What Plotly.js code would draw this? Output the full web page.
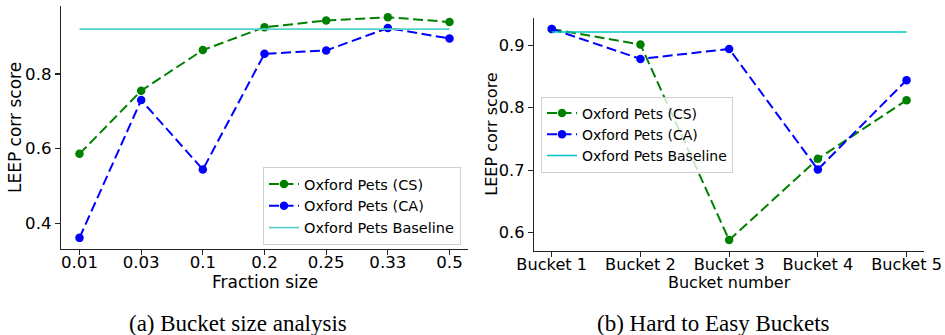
<!DOCTYPE html>
<html>
<head>
<meta charset="utf-8">
<script src="https://cdn.plot.ly/plotly-3.0.1.min.js"></script>
<style>html,body{margin:0;padding:0;background:#fff;}#chart{width:945px;height:335px;}</style>
</head>
<body>
<div id="chart"></div>
<script>
// ---- Data ----
const fractionSizes = ["0.01", "0.03", "0.1", "0.2", "0.25", "0.33", "0.5"];
const fracCS = [0.586, 0.755, 0.864, 0.925, 0.943, 0.952, 0.939];
const fracCA = [0.361, 0.730, 0.544, 0.854, 0.863, 0.923, 0.895];
const fracBaseline = [0.92, 0.92, 0.92, 0.92, 0.92, 0.92, 0.92];

const buckets = ["Bucket 1", "Bucket 2", "Bucket 3", "Bucket 4", "Bucket 5"];
const bucketCS = [0.926, 0.901, 0.588, 0.718, 0.812];
const bucketCA = [0.926, 0.878, 0.894, 0.701, 0.844];
const bucketBaseline = [0.921, 0.921, 0.921, 0.921, 0.921];

const seriesNames = ["Oxford Pets (CS)", "Oxford Pets (CA)", "Oxford Pets Baseline"];
const captions = ["(a) Bucket size analysis", "(b) Hard to Easy Buckets"];
const xTitles = ["Fraction size", "Bucket number"];
const yTitle = "LEEP corr score";

const W = 945, H = 335;
const px = v => v / W;
const py = v => 1 - v / H;
const FONT = "DejaVu Sans, sans-serif";
const DASH = "10px,4.5px";

const traces = [
  {x: fractionSizes, y: fracCS, name: seriesNames[0], type: "scatter", mode: "lines+markers",
   line: {color: "#008000", width: 2, dash: DASH}, marker: {color: "#008000", size: 8.5},
   xaxis: "x", yaxis: "y", legend: "legend"},
  {x: fractionSizes, y: fracCA, name: seriesNames[1], type: "scatter", mode: "lines+markers",
   line: {color: "#0000ff", width: 2, dash: DASH}, marker: {color: "#0000ff", size: 8.5},
   xaxis: "x", yaxis: "y", legend: "legend"},
  {x: fractionSizes, y: fracBaseline, name: seriesNames[2], type: "scatter", mode: "lines",
   line: {color: "#55d0cc", width: 1.6},
   xaxis: "x", yaxis: "y", legend: "legend"},
  {x: buckets, y: bucketCS, name: seriesNames[0], type: "scatter", mode: "lines+markers",
   line: {color: "#008000", width: 2, dash: DASH}, marker: {color: "#008000", size: 8.5},
   xaxis: "x2", yaxis: "y2", legend: "legend2"},
  {x: buckets, y: bucketCA, name: seriesNames[1], type: "scatter", mode: "lines+markers",
   line: {color: "#0000ff", width: 2, dash: DASH}, marker: {color: "#0000ff", size: 8.5},
   xaxis: "x2", yaxis: "y2", legend: "legend2"},
  {x: buckets, y: bucketBaseline, name: seriesNames[2], type: "scatter", mode: "lines",
   line: {color: "#00c4c4", width: 1.4},
   xaxis: "x2", yaxis: "y2", legend: "legend2"}
];

const axisCommon = {
  showgrid: false, zeroline: false, showline: true, linecolor: "#222", linewidth: 1.2,
  ticks: "outside", ticklen: 5, tickwidth: 1.1, tickcolor: "#222", fixedrange: true
};

const layout = {
  width: W, height: H,
  margin: {l: 0, r: 0, t: 0, b: 0},
  paper_bgcolor: "#fff", plot_bgcolor: "#fff",
  font: {family: FONT, color: "#000"},
  showlegend: true,
  xaxis: Object.assign({}, axisCommon, {
    domain: [px(61), px(468)], anchor: "y", type: "category", range: [-0.3, 6.3],
    tickfont: {size: 16.6, family: FONT}, ticklabelstandoff: -7
  }),
  yaxis: Object.assign({}, axisCommon, {
    domain: [py(248.7), py(6)], anchor: "x", range: [0.332, 0.982],
    tickvals: [0.4, 0.6, 0.8], tickformat: ".1f",
    tickfont: {size: 16.6, family: FONT}
  }),
  xaxis2: Object.assign({}, axisCommon, {
    domain: [px(534), px(924.3)], anchor: "y2", type: "category", range: [-0.2, 4.2],
    tickfont: {size: 16.2, family: FONT}, ticklabelstandoff: -6
  }),
  yaxis2: Object.assign({}, axisCommon, {
    domain: [py(250.7), py(18.3)], anchor: "x2", range: [0.571, 0.943],
    tickvals: [0.6, 0.7, 0.8, 0.9], tickformat: ".1f",
    tickfont: {size: 16.2, family: FONT}
  }),
  legend: {
    x: px(461), xanchor: "right", y: py(245), yanchor: "bottom",
    bgcolor: "rgba(255,255,255,0.8)", bordercolor: "#d0d0d0", borderwidth: 1,
    font: {size: 14.5, family: FONT}
  },
  legend2: {
    x: px(541), xanchor: "left", y: py(96.5), yanchor: "top",
    bgcolor: "rgba(255,255,255,0.8)", bordercolor: "#d0d0d0", borderwidth: 1,
    font: {size: 14, family: FONT}
  },
  annotations: [
    {text: xTitles[0], xref: "paper", yref: "paper", x: px(264.8), y: py(281.7),
     xanchor: "center", yanchor: "middle", showarrow: false, font: {size: 17, family: FONT}},
    {text: xTitles[1], xref: "paper", yref: "paper", x: px(729.3), y: py(282),
     xanchor: "center", yanchor: "middle", showarrow: false, font: {size: 16, family: FONT}},
    {text: yTitle, xref: "paper", yref: "paper", x: px(14.5), y: py(127.5), textangle: -90,
     xanchor: "center", yanchor: "middle", showarrow: false, font: {size: 17, family: FONT}},
    {text: yTitle, xref: "paper", yref: "paper", x: px(490.7), y: py(134), textangle: -90,
     xanchor: "center", yanchor: "middle", showarrow: false, font: {size: 16, family: FONT}},
    {text: captions[0], xref: "paper", yref: "paper", x: px(238), y: py(323),
     xanchor: "center", yanchor: "middle", showarrow: false,
     font: {size: 23, family: "Liberation Serif, Times New Roman, serif"}},
    {text: captions[1], xref: "paper", yref: "paper", x: px(713.5), y: py(323),
     xanchor: "center", yanchor: "middle", showarrow: false,
     font: {size: 23, family: "Liberation Serif, Times New Roman, serif"}}
  ]
};

Plotly.newPlot("chart", traces, layout, {displayModeBar: false, staticPlot: true});
</script>
</body>
</html>
